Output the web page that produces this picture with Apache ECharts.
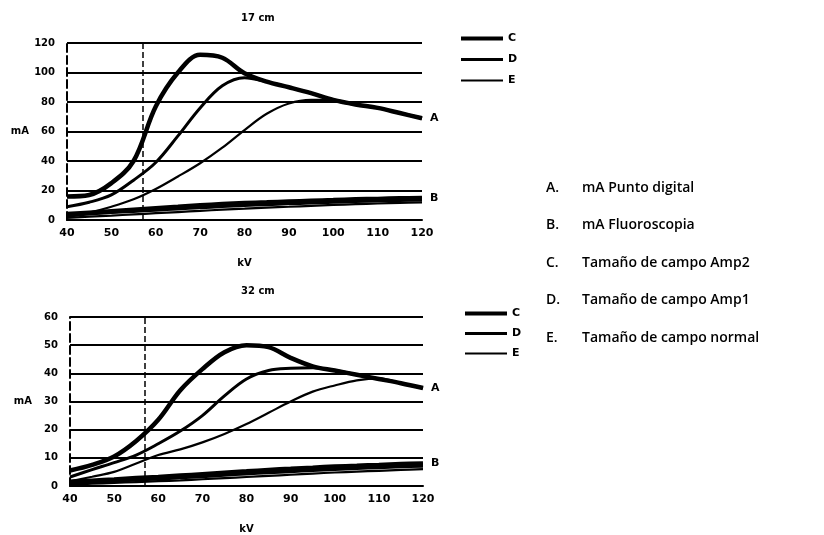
<!DOCTYPE html>
<html>
<head>
<meta charset="utf-8">
<script src="https://cdn.jsdelivr.net/npm/echarts@6/dist/echarts.min.js"></script>
<style>
  html, body { margin: 0; padding: 0; background: #fff; }
  #main { width: 824px; height: 535px; }
</style>
</head>
<body>
<div id="main"></div>
<script>
// kV samples shared by every curve
var kv = [40, 45, 50, 55, 60, 65, 70, 75, 80, 85, 90, 95, 100, 105, 110, 115, 120];

// 17 cm chart (mA)
var top_A_C = [16, 17, 25, 40, 77, 100, 112, 110, 99.5, 93.8, 90, 86, 81.4, 78.3, 76, 72.5, 69];
var top_A_D = [9, 12, 17, 27, 39, 57, 76, 91, 96.5, 93.8, 90, 86, 81.4, 78.3, 76, 72.5, 69];
var top_A_E = [2, 5, 9, 14, 21, 29.5, 38.5, 49, 61, 72, 79, 81.5, 81.4, 78.3, 76, 72.5, 69];
var top_B_C = [4, 5, 6, 7, 8, 9, 10, 10.8, 11.5, 12, 12.5, 13, 13.5, 14, 14.3, 14.7, 15];
var top_B_D = [3, 4, 5, 5.8, 6.6, 7.5, 8.3, 9.1, 9.8, 10.4, 11, 11.5, 12, 12.5, 12.9, 13.2, 13.5];
var top_B_E = [1.5, 2.3, 3, 3.8, 4.6, 5.4, 6.2, 7, 7.7, 8.4, 9, 9.6, 10.2, 10.7, 11.2, 11.6, 12];

// 32 cm chart (mA)
var bot_A_C = [5.5, 7.5, 10.5, 16, 23.5, 34, 41.5, 47.5, 50, 49.3, 45.5, 42.5, 41, 39.5, 38, 36.5, 34.8];
var bot_A_D = [3.2, 5.8, 8.3, 11, 15, 19.5, 25, 32, 38, 41, 41.8, 42, 41, 39.5, 38, 36.5, 34.8];
var bot_A_E = [1.7, 3.3, 5, 8, 11, 13, 15.5, 18.5, 22, 26, 30, 33.5, 35.7, 37.5, 38.2, 36.5, 34.8];
var bot_B_C = [1.5, 1.9, 2.3, 2.8, 3.2, 3.7, 4.2, 4.7, 5.2, 5.7, 6.1, 6.5, 6.9, 7.2, 7.5, 7.8, 8];
var bot_B_D = [1, 1.3, 1.7, 2.1, 2.5, 2.9, 3.3, 3.8, 4.3, 4.7, 5.1, 5.5, 5.9, 6.2, 6.5, 6.8, 7];
var bot_B_E = [0.5, 0.8, 1.1, 1.4, 1.7, 2, 2.4, 2.8, 3.2, 3.6, 4, 4.4, 4.8, 5.1, 5.4, 5.7, 6];

var titles = ['17 cm', '32 cm'];
var sizeNames = ['C', 'D', 'E'];
var noteLetters = ['A.', 'B.', 'C.', 'D.', 'E.'];
var noteTexts = ['mA Punto digital', 'mA Fluoroscopia', 'Tamaño de campo Amp2', 'Tamaño de campo Amp1', 'Tamaño de campo normal'];
var refKv = 57;

var widths = { C: 4.5, D: 3, E: 2.2 };
// legend strokes: flat bars whose height gives the drawn thickness
var legendIcons = {
    C: 'path://M0,0H100V10H0Z',
    D: 'path://M0,0H100V7H0Z',
    E: 'path://M0,0H100V5H0Z'
};
var ink = '#000';
var font = 'DejaVu Sans';

function pairs(vals) {
    return kv.map(function (k, i) { return [k, vals[i]]; });
}

function curve(name, vals, idx, extra) {
    var s = {
        name: name,
        type: 'line',
        xAxisIndex: idx,
        yAxisIndex: idx,
        data: pairs(vals),
        smooth: 0.35,
        symbol: 'none',
        lineStyle: { color: ink, width: widths[name] },
        itemStyle: { color: ink }
    };
    for (var k in extra) s[k] = extra[k];
    return s;
}

function endTag(txt) {
    return {
        endLabel: {
            show: true,
            formatter: txt,
            color: ink,
            fontFamily: font,
            fontWeight: 'bold',
            fontSize: 11,
            distance: 8
        }
    };
}

function refLine() {
    return {
        markLine: {
            silent: true,
            symbol: 'none',
            label: { show: false },
            lineStyle: { color: ink, type: 'dashed', width: 1.5 },
            data: [{ xAxis: refKv }]
        }
    };
}

function xAxis(idx) {
    return {
        type: 'value',
        gridIndex: idx,
        min: 40,
        max: 120,
        interval: 10,
        name: 'kV',
        nameLocation: 'middle',
        nameGap: 38,
        nameTextStyle: { color: ink, fontFamily: font, fontWeight: 'bold', fontSize: 10 },
        axisLine: { show: true, lineStyle: { color: ink, width: 2 } },
        axisTick: { show: false },
        splitLine: { show: false },
        axisLabel: { color: ink, fontFamily: font, fontWeight: 'bold', fontSize: 11, margin: 8 }
    };
}

function yAxis(idx, max, step) {
    return {
        type: 'value',
        gridIndex: idx,
        min: 0,
        max: max,
        interval: step,
        name: 'mA',
        nameLocation: 'middle',
        nameRotate: 0,
        nameGap: 38,
        nameTextStyle: { color: ink, fontFamily: font, fontWeight: 'bold', fontSize: 10 },
        axisLine: { show: true, lineStyle: { color: ink, width: 2, type: 'dashed' } },
        axisTick: { show: false },
        splitLine: { show: true, lineStyle: { color: ink, width: 2 } },
        axisLabel: { color: ink, fontFamily: font, fontWeight: 'bold', fontSize: 10, margin: 12 }
    };
}

function legend(left, top, gap) {
    return {
        left: left,
        top: top,
        orient: 'vertical',
        itemWidth: 42,
        itemHeight: 12,
        itemGap: gap,
        symbolKeepAspect: true,
        data: sizeNames.map(function (n) {
            return { name: n, icon: legendIcons[n], itemStyle: { color: ink } };
        }),
        textStyle: { color: ink, fontFamily: font, fontWeight: 'bold', fontSize: 11 }
    };
}

var notes = [];
noteLetters.forEach(function (l, i) {
    notes.push({
        type: 'text', left: 546, top: 181 + i * 37.5,
        style: { text: l, fill: ink, font: '600 14px "Open Sans"' }
    });
    notes.push({
        type: 'text', left: 582, top: 181 + i * 37.5,
        style: { text: noteTexts[i], fill: ink, font: '600 14px "Open Sans"' }
    });
});

var chart = echarts.init(document.getElementById('main'));
chart.setOption({
    backgroundColor: '#fff',
    animation: false,
    title: [
        { text: titles[0], left: 236, top: 8, textStyle: { color: ink, fontFamily: font, fontWeight: 'bold', fontSize: 10 } },
        { text: titles[1], left: 236, top: 281, textStyle: { color: ink, fontFamily: font, fontWeight: 'bold', fontSize: 10 } }
    ],
    legend: [legend(456, 28, 10), legend(460, 303, 9)],
    grid: [
        { left: 67, top: 43, width: 355, height: 177 },
        { left: 70, top: 317, width: 353, height: 178 }
    ],
    xAxis: [xAxis(0), xAxis(1)],
    yAxis: [yAxis(0, 120, 20), yAxis(1, 60, 10)],
    graphic: notes,
    series: [
        curve('C', top_A_C, 0, endTag('A')),
        curve('D', top_A_D, 0),
        curve('E', top_A_E, 0),
        curve('C', top_B_C, 0, endTag('B')),
        curve('D', top_B_D, 0),
        curve('E', top_B_E, 0, refLine()),
        curve('C', bot_A_C, 1, endTag('A')),
        curve('D', bot_A_D, 1),
        curve('E', bot_A_E, 1),
        curve('C', bot_B_C, 1, endTag('B')),
        curve('D', bot_B_D, 1),
        curve('E', bot_B_E, 1, refLine())
    ]
});
</script>
</body>
</html>
